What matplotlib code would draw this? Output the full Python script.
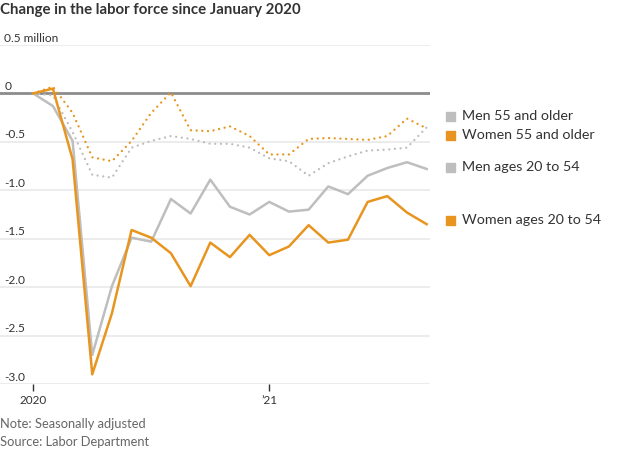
import matplotlib
matplotlib.use("Agg")
import matplotlib.pyplot as plt
import numpy as np

# months since Jan 2020 (Jan 2020 .. Sep 2021)
months = np.arange(21)

# change in labor force, millions
men_55_older = [0.0, -0.02, -0.40, -0.84, -0.87, -0.56, -0.49, -0.44, -0.47, -0.52, -0.52,
                -0.56, -0.67, -0.70, -0.85, -0.72, -0.65, -0.59, -0.58, -0.56, -0.35]
women_55_older = [0.0, 0.07, -0.20, -0.66, -0.70, -0.49, -0.20, 0.01, -0.38, -0.39, -0.34,
                  -0.44, -0.63, -0.63, -0.47, -0.46, -0.47, -0.48, -0.44, -0.26, -0.36]
men_20_54 = [0.0, -0.13, -0.49, -2.70, -1.99, -1.49, -1.53, -1.09, -1.24, -0.89, -1.17,
             -1.25, -1.12, -1.22, -1.20, -0.96, -1.04, -0.85, -0.77, -0.71, -0.78]
women_20_54 = [0.0, 0.05, -0.68, -2.90, -2.27, -1.41, -1.49, -1.65, -1.99, -1.54, -1.69,
               -1.46, -1.67, -1.58, -1.36, -1.54, -1.51, -1.12, -1.06, -1.23, -1.35]

legend_labels = ["Men 55 and older", "Women 55 and older", "Men ages 20 to 54", "Women ages 20 to 54"]
y_ticks = [0.5, 0, -0.5, -1.0, -1.5, -2.0, -2.5, -3.0]
y_tick_labels = ["0.5 million", "0", "-0.5", "-1.0", "-1.5", "-2.0", "-2.5", "-3.0"]
x_ticks = [0, 12]
x_tick_labels = ["2020", "\u201921"]

orange = "#E8951F"
gray = "#BEBEBE"
text_color = "#333333"

plt.rcParams['font.family'] = ['Lato', 'DejaVu Sans']

W, H = 620, 450
fig = plt.figure(figsize=(W / 100, H / 100), dpi=100)
ax = fig.add_axes([0, 1 - 384 / H, 430 / W, (384 - 45) / H])

ax.set_xlim(-1.69, 20.17)
ax.set_ylim(-3.0, 0.5)

for v in y_ticks:
    if v == 0:
        continue
    ax.axhline(v, color="#EBEBEB", lw=1.3, zorder=0)
ax.axhline(0, color="#8C8C8C", lw=2, zorder=1)

dots = (0, (0.01, 2.4))
ax.plot(months, men_55_older, color=gray, lw=1.7, ls=dots, dash_capstyle='round', zorder=2)
ax.plot(months, women_55_older, color=orange, lw=1.7, ls=dots, dash_capstyle='round', zorder=3)
ax.plot(months, men_20_54, color=gray, lw=1.8, zorder=2)
ax.plot(months, women_20_54, color=orange, lw=1.8, zorder=3)

for s in ax.spines.values():
    s.set_visible(False)
ax.set_yticks([])
ax.set_xticks(x_ticks)
ax.set_xticklabels(x_tick_labels, fontsize=8.5, color=text_color)
ax.tick_params(axis='x', length=5, width=1, color="#333333", pad=3)

for v, lab in zip(y_ticks, y_tick_labels):
    ax.annotate(lab, xy=(0, v), xycoords=('axes fraction', 'data'), xytext=(3, 1),
                textcoords='offset points', fontsize=8.6, color=text_color, va='bottom', ha='left')

# legend squares next to the line ends
legend_y = [116, 135, 167, 220]
legend_colors = [gray, orange, gray, orange]
for lab, py, c in zip(legend_labels, legend_y, legend_colors):
    fig.patches.append(plt.Rectangle((446 / W, 1 - (py + 4.5) / H), 9 / W, 9 / H,
                                     transform=fig.transFigure, color=c, figure=fig))
    fig.text(462 / W, 1 - py / H, lab, fontsize=10.3, color=text_color, va='center', ha='left')

fig.text(0, 1 - 10 / H, "Change in the labor force since January 2020", fontsize=10.8,
         fontweight='bold', color=text_color, va='center', ha='left')
fig.text(0, 1 - 424 / H, "Note: Seasonally adjusted", fontsize=9.3, color="#666666", va='center')
fig.text(0, 1 - 442 / H, "Source: Labor Department", fontsize=9.3, color="#666666", va='center')

fig.savefig("out.png", dpi=100)
